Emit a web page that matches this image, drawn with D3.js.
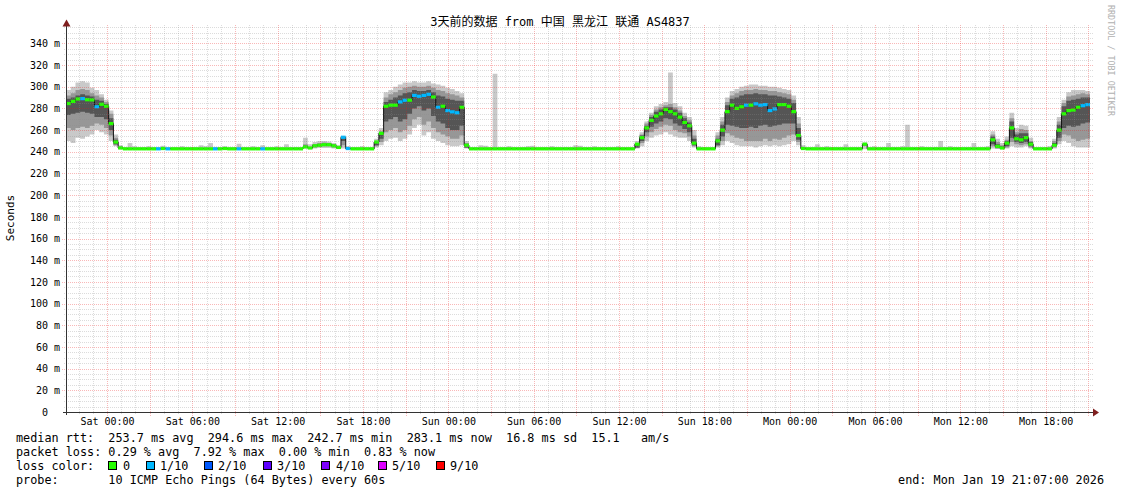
<!DOCTYPE html>
<html>
<head>
<meta charset="utf-8">
<script src="https://cdn.jsdelivr.net/npm/d3@7"></script>
<style>
  html, body { margin: 0; padding: 0; background: #ffffff; }
  svg { display: block; }
  text { font-family: "DejaVu Sans Mono", monospace; fill: #000; }
</style>
</head>
<body>
<svg id="chart" width="1121" height="494"></svg>
<script>
// ---------------- DATA ----------------
const titleText = "3天前的数据 from 中国 黑龙江 联通 AS4837";
const yAxisTitle = "Seconds";
const startTime = new Date(2026, 0, 16, 21, 7, 0);   // Fri Jan 16 21:07
const endTime   = new Date(2026, 0, 19, 21, 7, 0);   // Mon Jan 19 21:07
const stepMinutes = 20;
const yTicks = [0, 20, 40, 60, 80, 100, 120, 140, 160, 180, 200, 220, 240, 260, 280, 300, 320, 340];
const xTickLabels = ["Sat 00:00","Sat 06:00","Sat 12:00","Sat 18:00","Sun 00:00","Sun 06:00","Sun 12:00","Sun 18:00","Mon 00:00","Mon 06:00","Mon 12:00","Mon 18:00"];

// median rtt (ms), one value per 20 minute step
const median = [
  284.5,286.5,288.7,289,288,287.8,281.5,283.8,282,266,249,243.5,
  242.7,242.7,242.7,242.7,242.7,242.7,242.7,242.7,243,242.7,
  242.7,242.7,242.7,242.7,242.7,242.7,242.7,242.7,242.7,242.7,
  242.7,243,242.7,242.7,242.7,242.7,242.7,242.7,242.7,242.7,
  242.7,242.7,242.7,242.7,242.7,242.7,242.7,242.7,
  244.5,243.5,245.5,246,246.5,246.5,245.5,244,253.4,243,
  242.7,242.7,242.7,242.7,242.7,
  249,257,282,283,283,286,287.5,287.6,292,291.2,
  292,293,290.5,281,282,278,276.8,276,281,246,
  242.7,242.7,242.7,242.7,242.7,242.7,242.7,242.7,242.7,242.7,
  242.7,242.7,242.7,242.7,242.7,242.7,242.7,242.7,242.7,242.7,
  242.7,242.7,242.7,242.7,242.7,242.7,242.7,242.7,242.7,242.7,
  242.7,242.7,242.7,242.7,242.7,
  247,253,262,269,273,275,279,277,275,272,267,264,248,
  242.7,242.7,242.7,242.7,
  250,260,277,283,280,281.5,283,283,284.2,283,
  283.5,278,279.5,283.5,283.5,282,277,255,243,
  242.7,242.7,242.7,242.7,242.7,242.7,242.7,242.7,242.7,242.7,
  242.7,242.7,247,242.7,242.7,242.7,242.7,242.7,242.7,242.7,
  242.7,242.7,242.7,242.7,242.7,242.7,242.7,242.7,242.7,242.7,
  242.7,242.7,242.7,242.7,242.7,242.7,242.7,242.7,242.7,
  251,245,243.5,248,262,252,251,253,247,
  242.7,242.7,242.7,242.7,
  246,260,275,278,278.5,281,282.5,283.5,283.5
];

// lost pings out of 10 per step
const loss = [
  0,0,0,1,0,0,1,0,0,0,0,0,
  0,0,0,0,0,0,0,1,0,1,
  0,0,0,0,0,0,0,0,0,1,
  0,0,0,0,1,0,0,0,0,1,
  0,0,0,0,0,0,0,0,
  0,0,0,0,0,0,0,0,1,1,
  0,0,0,0,0,
  0,0,0,0,0,1,1,0,1,1,
  1,1,0,1,0,1,1,1,0,0,
  0,0,0,0,0,0,0,0,0,0,
  0,0,0,0,0,0,0,0,0,0,
  0,0,0,0,0,0,0,0,0,0,
  0,0,0,0,0,
  0,0,0,0,0,0,0,0,0,0,0,0,0,
  0,0,0,0,
  0,0,0,0,0,0,1,0,1,1,
  1,1,1,0,0,0,0,0,0,
  0,0,0,0,0,0,0,0,0,0,
  0,0,0,0,0,0,0,0,0,0,
  0,0,0,0,0,0,0,0,0,0,
  0,0,0,0,0,0,0,0,0,
  0,0,0,0,0,0,0,0,0,
  0,0,0,0,
  0,0,0,0,0,0,1,1,1
];

// smoke: outer (lightest) band
const outerHi = [
  297,300,304,305,304,299,297,293,288,278,256,246,
  244.5,248,245,244.5,244.5,245,244.5,244.5,245.5,244.5,
  244.5,244.5,245,244.5,244.5,244.5,246,245,248,244.5,
  244.5,245,244.5,244.5,247.5,244.5,244.5,245,244.5,246,
  244.5,244.5,245,244.5,247,244.5,244.5,244.5,
  253,247,249,250,250,249.5,248,246,254,245,
  244.5,244.5,245,244.5,244.5,
  252,262,295,297,300,302,304,304,305,304,
  304,305,303,302,301,299,298,296,294,250,
  244.5,244.5,246,245.5,244.5,312,244.5,244.5,245,244.5,
  244.5,244.5,245,245.5,244.5,244.5,244.5,245,244.5,244.5,
  244.5,244.5,246,245.5,244.5,244.5,245,244.5,244.5,244.5,
  244.5,245,244.5,244.5,244.5,
  250,258,268,276,282,284,286,313,285,282,276,272,260,
  245,244.5,244.5,244.5,
  258,272,290,296,298,300,301,302,302,301,
  301,300,300,299,298,297,292,272,246,
  244.5,244.5,247,244.5,245,244.5,244.5,244.5,247,244.5,
  244.5,244.5,248.5,244.5,245,244.5,244.5,248,244.5,244.5,
  245,265,244.5,244.5,245,244.5,244.5,244.5,250,244.5,
  245,244.5,244.5,244.5,244.5,248,244.5,244.5,245,
  259,252,248,254,276,262,265,264,253,
  244.5,244.5,244.5,245,
  252,272,288,295,297,297,297,296,296
];
const outerLo = [
  250,248,253,252,254,256,260,258,256,250,245,242.5,
  242.3,242.3,242.3,242.3,242.3,242.3,242.3,242.3,242.3,242.3,
  242.3,242.3,242.3,242.3,242.3,242.3,242.3,242.3,242.3,242.3,
  242.3,242.3,242.3,242.3,242.3,242.3,242.3,242.3,242.3,242.3,
  242.3,242.3,242.3,242.3,242.3,242.3,242.3,242.3,
  243,242.5,243,243.5,243.5,243.5,243,242.5,243,242.3,
  242.3,242.3,242.3,242.3,242.3,
  244,246,250,252,253,250,252,256,262,265,
  255,258,252,250,248,246,245,245,246,243,
  242.3,242.3,242.3,242.3,242.3,242.3,242.3,242.3,242.3,242.3,
  242.3,242.3,242.3,242.3,242.3,242.3,242.3,242.3,242.3,242.3,
  242.3,242.3,242.3,242.3,242.3,242.3,242.3,242.3,242.3,242.3,
  242.3,242.3,242.3,242.3,242.3,
  243,245,250,253,255,256,258,256,254,253,253,250,244,
  242.3,242.3,242.3,242.3,
  244,246,250,248,246,245,245,245,244,245,
  246,245,246,245,246,247,250,246,242.5,
  242.3,242.3,242.3,242.3,242.3,242.3,242.3,242.3,242.3,242.3,
  242.3,242.3,242.3,242.3,242.3,242.3,242.3,242.3,242.3,242.3,
  242.3,242.3,242.3,242.3,242.3,242.3,242.3,242.3,242.3,242.3,
  242.3,242.3,242.3,242.3,242.3,242.3,242.3,242.3,242.3,
  243,242.5,242.5,243,245,244,244,245,243,
  242.3,242.3,242.3,242.3,
  243,247,250,248,245,244,244,244,244
];
// smoke: middle band
const midHi = [
  292,294,297,298,297,294,292,290,286,275,253,245,
  243.8,243.8,243.8,243.8,243.8,243.8,243.8,243.8,243.8,243.8,
  243.8,243.8,243.8,243.8,243.8,243.8,243.8,243.8,243.8,243.8,
  243.8,243.8,243.8,243.8,243.8,243.8,243.8,243.8,243.8,243.8,
  243.8,243.8,243.8,243.8,243.8,243.8,243.8,243.8,
  247,244.5,247,248,248.5,248,247,245,253.5,244,
  243.8,243.8,243.8,243.8,243.8,
  250,259,290,293,295,297,299,300,301,300,
  300,301,299,297,296,294,293,292,290,248,
  243.8,243.8,243.8,243.8,243.8,243.8,243.8,243.8,243.8,243.8,
  243.8,243.8,243.8,243.8,243.8,243.8,243.8,243.8,243.8,243.8,
  243.8,243.8,243.8,243.8,243.8,243.8,243.8,243.8,243.8,243.8,
  243.8,243.8,243.8,243.8,243.8,
  248,256,266,274,279,281,283,284,281,278,273,269,255,
  243.8,243.8,243.8,243.8,
  255,268,286,292,294,296,297,297,298,297,
  297,296,296,295,294,293,288,266,244.5,
  243.8,243.8,243.8,243.8,243.8,243.8,243.8,243.8,243.8,243.8,
  243.8,243.8,247.5,243.8,243.8,243.8,243.8,243.8,243.8,243.8,
  243.8,243.8,243.8,243.8,243.8,243.8,243.8,243.8,243.8,243.8,
  243.8,243.8,243.8,243.8,243.8,243.8,243.8,243.8,243.8,
  256,249,246,251,271,258,261,260,250,
  243.8,243.8,243.8,243.8,
  250,268,285,291,292,293,294,293,293
];
const midLo = [
  262,260,262,263,262,264,266,265,262,255,246,242.8,
  242.5,242.5,242.5,242.5,242.5,242.5,242.5,242.5,242.5,242.5,
  242.5,242.5,242.5,242.5,242.5,242.5,242.5,242.5,242.5,242.5,
  242.5,242.5,242.5,242.5,242.5,242.5,242.5,242.5,242.5,242.5,
  242.5,242.5,242.5,242.5,242.5,242.5,242.5,242.5,
  243.5,243,244,244.5,245,245,244,243,246,242.5,
  242.5,242.5,242.5,242.5,242.5,
  245,249,258,260,262,258,260,264,270,272,
  265,268,262,258,256,254,252,252,255,243.5,
  242.5,242.5,242.5,242.5,242.5,242.5,242.5,242.5,242.5,242.5,
  242.5,242.5,242.5,242.5,242.5,242.5,242.5,242.5,242.5,242.5,
  242.5,242.5,242.5,242.5,242.5,242.5,242.5,242.5,242.5,242.5,
  242.5,242.5,242.5,242.5,242.5,
  243.5,248,254,258,261,263,265,264,260,258,257,254,245,
  242.5,242.5,242.5,242.5,
  245,250,257,255,253,252,250,250,250,250,
  252,250,252,251,253,255,256,249,242.8,
  242.5,242.5,242.5,242.5,242.5,242.5,242.5,242.5,242.5,242.5,
  242.5,242.5,245.5,242.5,242.5,242.5,242.5,242.5,242.5,242.5,
  242.5,242.5,242.5,242.5,242.5,242.5,242.5,242.5,242.5,242.5,
  242.5,242.5,242.5,242.5,242.5,242.5,242.5,242.5,242.5,
  245,243,243,244,249,247,246,247,244,
  242.5,242.5,242.5,242.5,
  244,250,256,255,252,250,251,252,252
];
// smoke: inner (darkest) band
const innerHi = [
  289,290,292,293,292,291,288,287,284,271,251,244,
  243.3,243.3,243.3,243.3,243.3,243.3,243.3,243.3,243.3,243.3,
  243.3,243.3,243.3,243.3,243.3,243.3,243.3,243.3,243.3,243.3,
  243.3,243.3,243.3,243.3,243.3,243.3,243.3,243.3,243.3,243.3,
  243.3,243.3,243.3,243.3,243.3,243.3,243.3,243.3,
  245.5,244,246.5,247,247.5,247.5,246.5,244.5,253.4,243.5,
  243.3,243.3,243.3,243.3,243.3,
  249,257,286,288,290,292,294,295,297,296,
  296,297,295,292,291,289,288,287,287,247,
  243.3,243.3,243.3,243.3,243.3,243.3,243.3,243.3,243.3,243.3,
  243.3,243.3,243.3,243.3,243.3,243.3,243.3,243.3,243.3,243.3,
  243.3,243.3,243.3,243.3,243.3,243.3,243.3,243.3,243.3,243.3,
  243.3,243.3,243.3,243.3,243.3,
  247,255,264,272,277,279,281,281,279,276,271,267,252,
  243.3,243.3,243.3,243.3,
  252,265,283,289,290,292,293,293,294,293,
  293,292,292,291,290,289,285,262,243.8,
  243.3,243.3,243.3,243.3,243.3,243.3,243.3,243.3,243.3,243.3,
  243.3,243.3,247,243.3,243.3,243.3,243.3,243.3,243.3,243.3,
  243.3,243.3,243.3,243.3,243.3,243.3,243.3,243.3,243.3,243.3,
  243.3,243.3,243.3,243.3,243.3,243.3,243.3,243.3,243.3,
  254,247,245,250,268,256,257,257,249,
  243.3,243.3,243.3,243.3,
  248,265,282,287,288,289,290,290,290
];
const innerLo = [
  274,275,276,277,276,275,272,272,270,260,247,243,
  242.6,242.6,242.6,242.6,242.6,242.6,242.6,242.6,242.6,242.6,
  242.6,242.6,242.6,242.6,242.6,242.6,242.6,242.6,242.6,242.6,
  242.6,242.6,242.6,242.6,242.6,242.6,242.6,242.6,242.6,242.6,
  242.6,242.6,242.6,242.6,242.6,242.6,242.6,242.6,
  244,243.2,244.8,245.5,246,246,245,243.5,250,242.6,
  242.6,242.6,242.6,242.6,242.6,
  246,252,268,270,272,268,270,275,280,282,
  278,280,273,268,266,262,260,260,264,244,
  242.6,242.6,242.6,242.6,242.6,242.6,242.6,242.6,242.6,242.6,
  242.6,242.6,242.6,242.6,242.6,242.6,242.6,242.6,242.6,242.6,
  242.6,242.6,242.6,242.6,242.6,242.6,242.6,242.6,242.6,242.6,
  242.6,242.6,242.6,242.6,242.6,
  244,250,258,263,266,268,271,270,266,264,261,258,246,
  242.6,242.6,242.6,242.6,
  246,254,265,264,263,262,262,263,262,264,
  265,263,264,265,266,266,266,251,243,
  242.6,242.6,242.6,242.6,242.6,242.6,242.6,242.6,242.6,242.6,
  242.6,242.6,246,242.6,242.6,242.6,242.6,242.6,242.6,242.6,
  242.6,242.6,242.6,242.6,242.6,242.6,242.6,242.6,242.6,242.6,
  242.6,242.6,242.6,242.6,242.6,242.6,242.6,242.6,242.6,
  247,244,243,245,253,249,248,249,245,
  242.6,242.6,242.6,242.6,
  245,253,262,264,263,264,266,267,267
];

const lossLabels = ["0", "1/10", "2/10", "3/10", "4/10", "5/10", "9/10"];
const lossColors = ["#26ff00", "#00b8ff", "#0059ff", "#5e00ff", "#7e00ff", "#dd00ff", "#ff0000"];
const legendLines = [
  "median rtt:  253.7 ms avg  294.6 ms max  242.7 ms min  283.1 ms now  16.8 ms sd  15.1   am/s",
  "packet loss: 0.29 % avg  7.92 % max  0.00 % min  0.83 % now",
  "loss color:",
  "probe:       10 ICMP Echo Pings (64 Bytes) every 60s"
];
const endLabel = "end: Mon Jan 19 21:07:00 2026";
const watermark = "RRDTOOL / TOBI OETIKER";

// ---------------- CHECK ----------------
const N = median.length;
[["loss",loss],["outerHi",outerHi],["outerLo",outerLo],["midHi",midHi],["midLo",midLo],["innerHi",innerHi],["innerLo",innerLo]]
  .forEach(([n,a]) => { if (a.length !== N) throw new Error(n + " length " + a.length + " vs " + N); });

// ---------------- RENDER ----------------
const svg = d3.select("#chart");
svg.append("rect").attr("width", 1121).attr("height", 494).attr("fill", "#ffffff");

const X0 = 66, X1 = 1090, Y0 = 412, YTOP = 26;
const x = d3.scaleTime().domain([startTime, endTime]).range([X0, X1]);
const y = d3.scaleLinear().domain([0, 356]).range([Y0, YTOP]);

const times = d3.range(N).map(i => new Date(startTime.getTime() + i * stepMinutes * 60000));
const rows = times.map((t, i) => ({
  t, med: median[i], loss: loss[i],
  oh: outerHi[i], ol: outerLo[i], mh: midHi[i], ml: midLo[i], ih: innerHi[i], il: innerLo[i]
}));

const plot = svg.append("g");
const band = (lo, hi) => d3.area().curve(d3.curveStepAfter)
  .x(d => x(d.t)).y0(d => y(d[lo])).y1(d => y(d[hi]));

plot.append("path").attr("d", band("ol", "oh")(rows)).attr("fill", "#c9c9c9");
plot.append("path").attr("d", band("ml", "mh")(rows)).attr("fill", "#979797");
plot.append("path").attr("d", band("il", "ih")(rows)).attr("fill", "#555555");

// median thin line
plot.append("path")
  .attr("d", d3.line().curve(d3.curveStepAfter).x(d => x(d.t)).y(d => y(d.med))(rows))
  .attr("fill", "none").attr("stroke", "#111").attr("stroke-width", 1);

// median loss-coloured marks
plot.selectAll("rect.med").data(rows.slice(0, N - 1)).enter().append("rect")
  .attr("class", "med")
  .attr("x", d => x(d.t))
  .attr("width", (d, i) => x(rows[i + 1].t) - x(d.t))
  .attr("y", d => y(d.med) - 1.6)
  .attr("height", 3.2)
  .attr("fill", d => lossColors[d.loss]);

// ---------------- GRID (on top, translucent) ----------------
const grid = svg.append("g").attr("shape-rendering", "crispEdges");
const px = v => Math.round(v) + 0.5;
const minorCol = "rgba(140,140,140,0.30)", majorCol = "rgba(235,20,20,0.30)";
// horizontal
d3.range(5, 356, 5).forEach(v => {
  const major = v % 20 === 0;
  grid.append("line").attr("x1", major ? 62 : 64).attr("x2", 1093)
    .attr("y1", px(y(v))).attr("y2", px(y(v)))
    .attr("stroke", major ? majorCol : minorCol).attr("stroke-dasharray", "1,1");
});
// vertical
d3.timeHour.every(1).range(startTime, endTime).forEach(t => {
  const major = t.getHours() % 3 === 0;
  grid.append("line").attr("x1", px(x(t))).attr("x2", px(x(t)))
    .attr("y1", YTOP - 1).attr("y2", major ? 416 : 414)
    .attr("stroke", major ? majorCol : minorCol).attr("stroke-dasharray", "1,1");
});

// ---------------- AXES ----------------
const axisCol = "#333333", arrowCol = "#7f1f1f";
svg.append("line").attr("x1", 66.5).attr("x2", 66.5).attr("y1", 415).attr("y2", 23)
  .attr("stroke", axisCol).attr("shape-rendering", "crispEdges");
svg.append("line").attr("x1", 63).attr("x2", 1094).attr("y1", 412.5).attr("y2", 412.5)
  .attr("stroke", axisCol).attr("shape-rendering", "crispEdges");
svg.append("path").attr("d", "M62.5,26.5 L70.5,26.5 L66.5,19.5 Z").attr("fill", arrowCol);
svg.append("path").attr("d", "M1093,408.5 L1093,416.5 L1099,412.5 Z").attr("fill", arrowCol);

const yAxis = d3.axisLeft(y).tickValues(yTicks).tickSize(0).tickPadding(0)
  .tickFormat(v => v === 0 ? "0  " : v + " m");
const gy = svg.append("g").attr("transform", "translate(60,0)").call(yAxis);
gy.select(".domain").remove();
gy.selectAll("text").attr("font-family", "DejaVu Sans Mono").attr("font-size", "10px")
  .attr("fill", "#000").style("white-space", "pre");

const xTickTimes = d3.timeHour.every(6).range(startTime, endTime);
const xAxis = d3.axisBottom(x).tickValues(xTickTimes).tickSize(0).tickPadding(0)
  .tickFormat((d, i) => xTickLabels[i]);
const gx = svg.append("g").attr("transform", "translate(0,418)").call(xAxis);
gx.select(".domain").remove();
gx.selectAll("text").attr("font-family", "DejaVu Sans Mono").attr("font-size", "10px")
  .attr("fill", "#000").attr("dy", "0.71em");

// ---------------- TEXTS ----------------
svg.append("text").attr("x", 560).attr("y", 26).attr("text-anchor", "middle")
  .attr("font-size", "12px")
  .style("font-family", "'DejaVu Sans Mono', 'Noto Sans CJK SC', monospace")
  .text(titleText);

svg.append("text").attr("transform", "translate(14,218) rotate(-90)").attr("text-anchor", "middle")
  .attr("font-size", "11px").text(yAxisTitle);

svg.append("text").attr("transform", "translate(1108,5) rotate(90)").attr("text-anchor", "start")
  .attr("font-size", "8.4px").style("fill", "#b0b0b0").text(watermark);

const LX = 16, LFS = 11.8, lineY = [442, 456, 470, 484];
legendLines.forEach((s, i) => {
  svg.append("text").attr("x", LX).attr("y", lineY[i]).attr("font-size", LFS + "px")
    .style("white-space", "pre").text(s);
});
// loss colour boxes
const boxX = [108, 146, 204, 263, 321, 378, 436];
const labX = [123, 160, 218, 277, 336, 392, 450];
lossLabels.forEach((lab, i) => {
  svg.append("rect").attr("x", boxX[i] + 0.5).attr("y", 461.5).attr("width", 8).attr("height", 8)
    .attr("fill", lossColors[i]).attr("stroke", "#000").attr("stroke-width", 1);
  svg.append("text").attr("x", labX[i]).attr("y", lineY[2]).attr("font-size", LFS + "px").text(lab);
});
svg.append("text").attr("x", 1104).attr("y", lineY[3]).attr("text-anchor", "end")
  .attr("font-size", LFS + "px").style("white-space", "pre").text(endLabel);
</script>
</body>
</html>
